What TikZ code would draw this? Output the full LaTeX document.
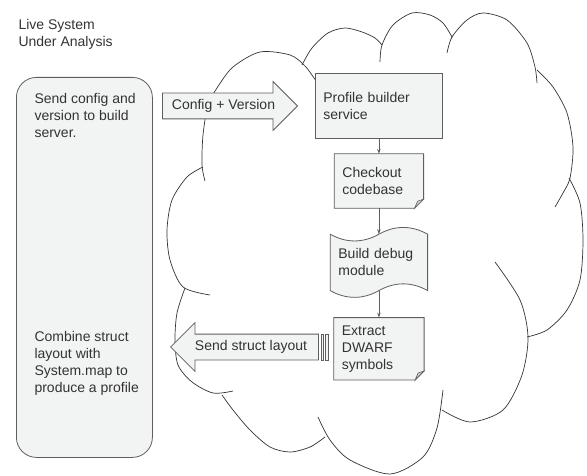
\documentclass[tikz,border=0pt]{standalone}
\usepackage{fontspec}
\setmainfont{Liberation Sans}
\usetikzlibrary{positioning,shapes.arrows,arrows.meta,backgrounds}

\definecolor{boxfill}{HTML}{F2F3F3}
\definecolor{boxline}{HTML}{5E5E5E}
\definecolor{foldfill}{HTML}{CDCDCD}
\definecolor{inkgray}{HTML}{333333}

\begin{document}
\begin{tikzpicture}[x=1pt,y=-1pt,
    every node/.style={font=\fontsize{14}{17}\selectfont, text=inkgray},
    flowbox/.style={rectangle, fill=boxfill, draw=boxline, line width=0.8pt,
      inner xsep=8pt, align=left},
    notebox/.style={rectangle, inner xsep=8pt, align=left},
    shapeline/.style={fill=boxfill, draw=boxline, line width=0.8pt},
    blockarrow/.style={single arrow, fill=boxfill, draw=boxline, line width=0.8pt,
      single arrow head extend=11.5pt, single arrow tip angle=90,
      text height=10pt, text depth=3pt, inner ysep=6pt, inner xsep=4pt},
    cloudline/.style={draw=inkgray, line width=0.7pt},
    link/.style={draw=boxline, line width=0.7pt, -{Stealth[length=5pt,width=3.5pt]}}]
  \useasboundingbox (0,0) rectangle (587,476);

  % the cloud, one bump at a time
  \draw[cloudline] plot[smooth] coordinates {(205,181) (202,165) (203,135) (208,105) (217,88) (233,67) (260,52) (290,55) (305,66) (316,81)};
  \draw[cloudline] plot[smooth] coordinates {(302,65) (312,48) (328,33) (345,28) (362,32) (375,38) (382,45)};
  \draw[cloudline] plot[smooth] coordinates {(380,62) (382,45) (393,25) (412,13) (430,15) (443,23) (452,37)};
  \draw[cloudline] plot[smooth] coordinates {(447,53) (452,37) (467,20) (483,13) (507,20) (527,43) (535,67) (537,83)};
  \draw[cloudline] plot[smooth] coordinates {(537,70) (553,87) (567,113) (573,147) (570,178) (563,193) (555,207)};
  \draw[cloudline] plot[smooth] coordinates {(569,178) (580,203) (583,240) (580,280) (567,310) (547,330) (527,337)};
  \draw[cloudline] plot[smooth] coordinates {(442,410) (470,422) (503,410) (522,375) (528,337) (520,300) (495,262)};
  \draw[cloudline] plot[smooth] coordinates {(318,417) (330,440) (350,460) (390,474) (423,457) (437,428) (443,390)};
  \draw[cloudline] plot[smooth] coordinates {(222,395) (233,410) (250,430) (270,447) (290,452) (310,447) (325,437)};
  \draw[cloudline] plot[smooth] coordinates {(185,288) (177,313) (175,340) (178,365) (192,382) (213,393) (233,391)};
  \draw[cloudline] plot[smooth] coordinates {(203,167) (187,177) (172,200) (167,230) (170,260) (183,287) (210,295)};

  % live system
  \node[anchor=base west, align=left] (title) at (15,47) {Live System\\Under Analysis};
  \node[flowbox, rounded corners=20pt, minimum width=136pt, minimum height=380pt,
    anchor=north west] (lsys) at (16,77) {};
  \node[anchor=base west, align=left] (sendcfg) at (31,138) {Send config and\\version to build\\server.};
  \node[anchor=base west, align=left] (combine) at (31,392) {Combine struct\\layout with\\System.map to\\produce a profile};

  % block arrows
  \node[blockarrow, minimum height=135pt, anchor=tip] (cfg) at (298,106) {Config + Version};
  \node[blockarrow, shape border rotate=180, minimum height=148pt, anchor=tip] (sendlay) at (170,347) {Send struct layout};
  \filldraw[shapeline] ([xshift=2pt,yshift=-13pt]sendlay.tail) rectangle ([xshift=4.5pt,yshift=13pt]sendlay.tail);
  \filldraw[shapeline] ([xshift=6.5pt,yshift=-13pt]sendlay.tail) rectangle ([xshift=9pt,yshift=13pt]sendlay.tail);

  % build server
  \node[flowbox, text width=111pt, minimum height=65pt, anchor=north west] (prof) at (315,73) {Profile builder\\service};
  \node[notebox, text width=73pt, minimum height=54pt, below=15pt of prof] (chk) {Checkout\\codebase};
  \node[notebox, text width=81pt, minimum height=56pt, below=26pt of chk] (build) {Build debug\\module};
  \node[notebox, text width=74pt, minimum height=62pt, below=27pt of build] (ext) {Extract\\DWARF\\symbols};

  \begin{scope}[on background layer]
    \filldraw[shapeline] (chk.north west) -- (chk.north east) -- ([yshift=9pt]chk.south east) -- ([xshift=-9pt]chk.south east) -- (chk.south west) -- cycle;
    \filldraw[fill=foldfill, draw=boxline, line width=0.6pt] ([yshift=9pt]chk.south east) -- ([xshift=-9pt]chk.south east) -- ([xshift=-6pt,yshift=7pt]chk.south east) -- cycle;
    \filldraw[shapeline] (build.north west) .. controls +(16,9) and +(-16,9) .. (build.north)
      .. controls +(16,-9) and +(-16,-9) .. (build.north east) -- (build.south east)
      .. controls +(-16,-9) and +(16,-9) .. (build.south)
      .. controls +(-16,9) and +(16,9) .. (build.south west) -- cycle;
    \filldraw[shapeline] (ext.north west) -- (ext.north east) -- ([yshift=9pt]ext.south east) -- ([xshift=-9pt]ext.south east) -- (ext.south west) -- cycle;
    \filldraw[fill=foldfill, draw=boxline, line width=0.6pt] ([yshift=9pt]ext.south east) -- ([xshift=-9pt]ext.south east) -- ([xshift=-6pt,yshift=7pt]ext.south east) -- cycle;
  \end{scope}

  \draw[link] (prof) -- (chk);
  \draw[link] (chk) -- (build);
  \draw[link] (build) -- (ext);
\end{tikzpicture}
\end{document}
